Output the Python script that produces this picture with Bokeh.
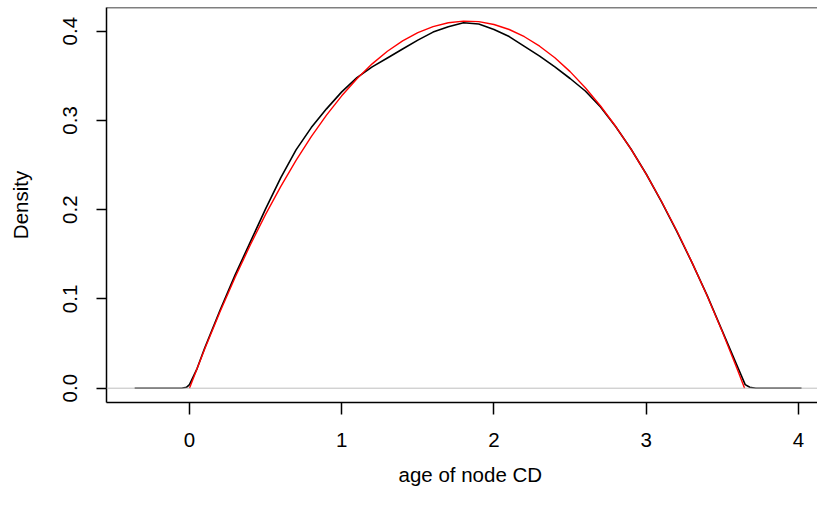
from bokeh.plotting import figure
from bokeh.models import Range1d, Span, FixedTicker, PrintfTickFormatter, Title
from bokeh.embed import file_html
from bokeh.resources import INLINE

# Kernel density estimate (black)
kde_x = [-0.36, -0.2, -0.05, -0.02, 0.0, 0.05, 0.1, 0.2, 0.3, 0.4, 0.5, 0.6, 0.7, 0.8, 0.9,
         1.0, 1.1, 1.2, 1.3, 1.4, 1.5, 1.6, 1.7, 1.8, 1.9, 2.0, 2.1, 2.2, 2.3, 2.4, 2.5,
         2.6, 2.7, 2.8, 2.9, 3.0, 3.1, 3.2, 3.3, 3.4, 3.5, 3.6, 3.65, 3.68, 3.72, 4.02]
kde_y = [0.0, 0.0, 0.0, 0.001, 0.004, 0.022, 0.045, 0.087, 0.127, 0.164, 0.201, 0.236, 0.267,
         0.292, 0.313, 0.332, 0.348, 0.360, 0.370, 0.380, 0.390, 0.399, 0.405, 0.4095, 0.408,
         0.402, 0.394, 0.383, 0.372, 0.360, 0.347, 0.333, 0.315, 0.293, 0.268, 0.240, 0.209,
         0.176, 0.141, 0.104, 0.064, 0.024, 0.004, 0.001, 0.0, 0.0]

# Theoretical density (red)
theo_x = [0.0, 0.1, 0.2, 0.3, 0.4, 0.5, 0.6, 0.7, 0.8, 0.9, 1.0, 1.1, 1.2, 1.3, 1.4, 1.5,
          1.6, 1.7, 1.8, 1.9, 2.0, 2.1, 2.2, 2.3, 2.4, 2.5, 2.6, 2.7, 2.8, 2.9, 3.0, 3.1,
          3.2, 3.3, 3.4, 3.5, 3.6, 3.646]
theo_y = [0.0, 0.0439, 0.0853, 0.1243, 0.1607, 0.1947, 0.2262, 0.2553, 0.2818, 0.3059,
          0.3276, 0.3467, 0.3634, 0.3775, 0.3892, 0.3985, 0.4052, 0.4095, 0.4113, 0.4107,
          0.4075, 0.4019, 0.3938, 0.3832, 0.3702, 0.3547, 0.3367, 0.3162, 0.2932, 0.2678,
          0.2399, 0.2095, 0.1767, 0.1413, 0.1035, 0.0633, 0.0205, 0.0]

x_ticks = [0, 1, 2, 3, 4]
y_ticks = [0.0, 0.1, 0.2, 0.3, 0.4]
x_title = "age of node CD"
y_title = "Density"

FONT = "Liberation Sans"
FS = "20.5px"

p = figure(width=817, height=506, output_backend="svg", toolbar_location=None,
           x_range=Range1d(-0.545, 4.125), y_range=Range1d(-0.01602, 0.42655),
           min_border_left=106, min_border_right=0, min_border_top=7, min_border_bottom=104)
p.grid.visible = False
p.outline_line_color = None
p.background_fill_color = "white"
p.border_fill_color = "white"

p.line(kde_x, kde_y, line_color="black", line_width=1.6)
p.add_layout(Span(location=0, dimension="width", line_color="#bebebe", line_width=1))
p.line(theo_x, theo_y, line_color="red", line_width=1.4)

# top border of the box
p.add_layout(Span(location=0.42655, dimension="width", line_color="black", line_width=1.5))

for ax in (p.xaxis[0], p.yaxis[0]):
    ax.axis_line_color = "black"
    ax.axis_line_width = 1.5
    ax.major_tick_line_color = "black"
    ax.major_tick_line_width = 1.5
    ax.major_tick_in = 0
    ax.minor_tick_line_color = None
    ax.major_label_text_font = FONT
    ax.major_label_text_font_size = FS
    ax.major_label_text_color = "black"
    ax.axis_label_text_font = FONT
    ax.axis_label_text_font_size = FS
    ax.axis_label_text_font_style = "normal"
    ax.axis_label_text_color = "black"

p.xaxis.ticker = FixedTicker(ticks=x_ticks)
p.yaxis.ticker = FixedTicker(ticks=y_ticks)
p.yaxis.formatter = PrintfTickFormatter(format="%.1f")
p.xaxis.major_tick_out = 12
p.yaxis.major_tick_out = 10
p.xaxis.major_label_standoff = 18
p.yaxis.major_label_standoff = 19
p.yaxis.major_label_orientation = "vertical"
p.yaxis.axis_label = y_title
p.yaxis.axis_label_standoff = 29

# x title centred on R's full plot region (which extends past the window edge)
p.add_layout(Title(text=x_title, align="left", offset=292, standoff=27,
                   vertical_align="top", text_font=FONT, text_font_size=FS,
                   text_font_style="normal", text_color="black"), "below")

open("out.html", "w").write(file_html(p, INLINE))
